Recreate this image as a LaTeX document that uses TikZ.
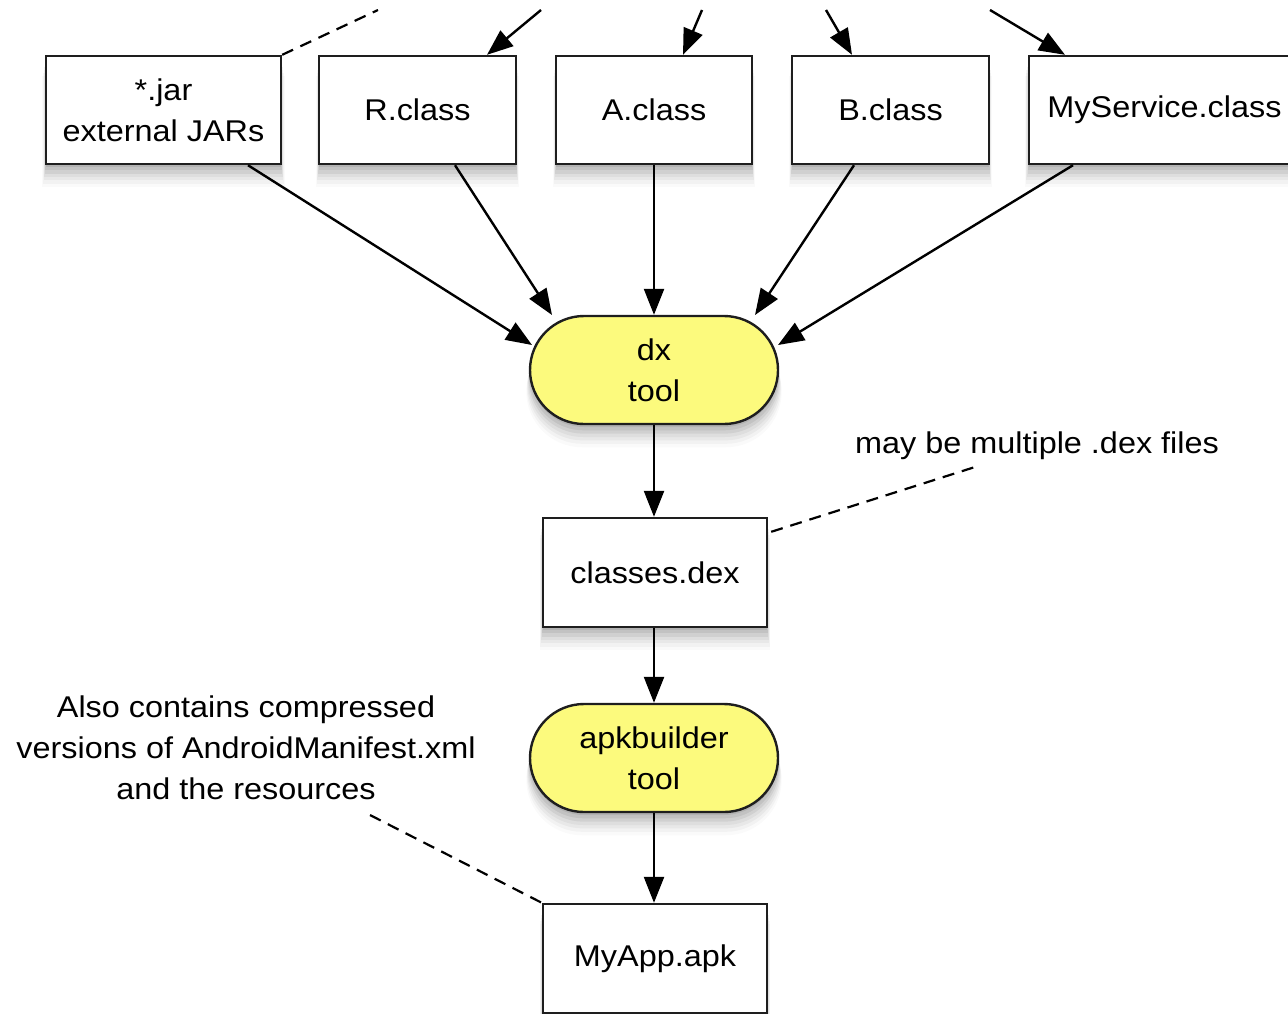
\documentclass[tikz,border=0pt]{standalone}
\usepackage{fontspec}
\setmainfont[FakeStretch=1.08]{Liberation Sans}
\usetikzlibrary{arrows.meta,shapes.misc,shadows,calc}

\definecolor{tooly}{RGB}{252,250,125}
\definecolor{edge}{RGB}{30,30,30}

\tikzset{
  softshadow/.style={
    drop shadow={shadow xshift=0pt,shadow yshift=-1.5pt,opacity=0.07,fill=black,shadow scale=1.000},
    drop shadow={shadow xshift=0pt,shadow yshift=-3pt,opacity=0.07,fill=black,shadow scale=1.005},
    drop shadow={shadow xshift=0pt,shadow yshift=-4.5pt,opacity=0.06,fill=black,shadow scale=1.010},
    drop shadow={shadow xshift=0pt,shadow yshift=-6pt,opacity=0.05,fill=black,shadow scale=1.015},
    drop shadow={shadow xshift=0pt,shadow yshift=-7.5pt,opacity=0.04,fill=black,shadow scale=1.020},
    drop shadow={shadow xshift=0pt,shadow yshift=-9pt,opacity=0.03,fill=black,shadow scale=1.025},
    drop shadow={shadow xshift=0pt,shadow yshift=-10.5pt,opacity=0.02,fill=black,shadow scale=1.030}},
  txt/.style={font=\fontsize{15}{20.5}\selectfont, align=center, text=black},
  filebox/.style={txt, draw=edge, line width=1.2pt, fill=white, rectangle,
    inner sep=0pt, minimum height=54pt, softshadow},
  toolbox/.style={txt, draw=edge, line width=1.2pt, fill=tooly, rounded rectangle,
    rounded rectangle arc length=180, inner sep=0pt,
    minimum width=124pt, minimum height=54pt, softshadow},
  note/.style={txt},
  arr/.style={draw=black, line width=1.2pt, -{Triangle[length=13pt,width=10pt]}},
  dashline/.style={draw=black, line width=1.1pt, dash pattern=on 6pt off 4pt},
}

\begin{document}
\begin{tikzpicture}[x=0.5pt,y=-0.5pt]
\useasboundingbox (0,0) rectangle (1288,1013);
\clip (0,0) rectangle (1288,1013);

% input files
\node[filebox, minimum width=117.5pt] (jar) at (163.5,110) {*.jar\\external JARs};
\node[filebox, minimum width=98.5pt]  (R)   at (417.5,110) {R.class};
\node[filebox, minimum width=98pt]    (A)   at (654,110)   {A.class};
\node[filebox, minimum width=98.5pt]  (B)   at (890.5,110) {B.class};
\node[filebox, minimum width=135.5pt] (MS)  at (1164.5,110) {MyService.class};

% tools and outputs
\node[toolbox] (dx)  at (654,370) {dx\\tool};
\node[filebox, minimum width=112pt, minimum height=54.5pt] (dex) at (655,572.5) {classes.dex};
\node[toolbox] (apkb) at (654,758) {apkbuilder\\tool};
\node[filebox, minimum width=112pt, minimum height=54.5pt] (apk) at (655,958.5) {MyApp.apk};

% notes
\node[note] (dexnote) at (1037,446) {may be multiple .dex files};
\node[note] (apknote) at (246,748) {Also contains compressed\\versions of AndroidManifest.xml\\and the resources};

% loose ends coming from above
\coordinate (srcR)  at (541,10);
\coordinate (srcA)  at (702,10);
\coordinate (srcB)  at (826,10);
\coordinate (srcMS) at (990,10);
\coordinate (srcJ)  at (378,10);
\coordinate (dexnoteend) at (975,467);
\coordinate (apknoteend) at (370,815);

\draw[arr] (srcR)  -- ($(R.north)+(69.5,0)$);
\draw[arr] (srcA)  -- ($(A.north)+(29,0)$);
\draw[arr] (srcB)  -- ($(B.north)+(-38.5,0)$);
\draw[arr] (srcMS) -- ($(MS.north)+(-99.5,0)$);
\draw[dashline] (jar.north east) -- (srcJ);

% everything into dx
\draw[arr] ($(jar.south)+(84.5,0)$) -- ($(dx.center)+(-122,-25)$);
\draw[arr] ($(R.south)+(37.5,0)$)   -- ($(dx.center)+(-102,-55)$);
\draw[arr] (A.south)                -- (dx.north);
\draw[arr] ($(B.south)+(-36.5,0)$)  -- ($(dx.center)+(101,-55)$);
\draw[arr] ($(MS.south)+(-91.5,0)$) -- ($(dx.center)+(124,-25)$);

% main chain
\draw[arr] (dx.south)   -- (dx.south |- dex.north);
\draw[arr] (apkb.north |- dex.south) -- (apkb.north);
\draw[arr] (apkb.south) -- (apkb.south |- apk.north);

% annotation leaders
\draw[dashline] ($(dex.north east)+(3,15)$) -- (dexnoteend);
\draw[dashline] (apknoteend) -- (apk.north west);
\end{tikzpicture}
\end{document}
